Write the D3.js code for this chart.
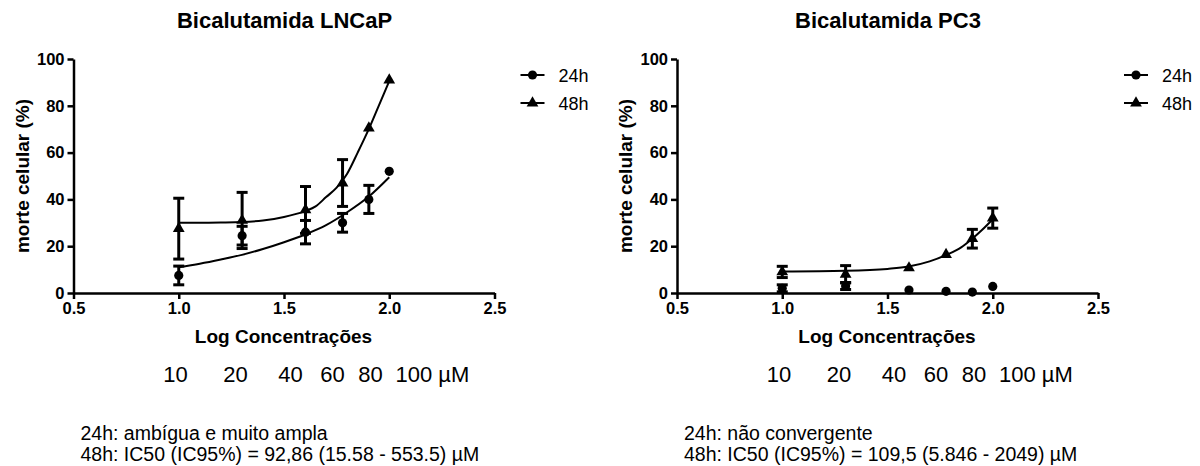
<!DOCTYPE html>
<html>
<head>
<meta charset="utf-8">
<script src="https://cdn.jsdelivr.net/npm/d3@7"></script>
<style>
  body { margin: 0; background: #fff; }
  svg { display: block; font-family: Arial, "Liberation Sans", sans-serif; }
  .axis path, .axis line { stroke: #000; stroke-width: 2.5; }
  .axis text { font-size: 16.5px; font-weight: bold; fill: #000; }
</style>
</head>
<body>
<svg width="1200" height="466"></svg>
<script>
// concentrations (µM) and their log10 positions
var conc = [10, 20, 40, 60, 80, 100]
var logConc = conc.map(c => Math.log10(c))
var concLabels = ["10", "20", "40", "60", "80", "100 µM"]
var xTicks = [0.5, 1.0, 1.5, 2.0, 2.5]
var yTicks = [0, 20, 40, 60, 80, 100]

// LNCaP means and error (SEM)
var lncap24 = [7.5, 24.5, 26, 30, 40, 52]
var lncap24Err = [4, 4, 5, 4, 6, 0]
var lncap48 = [27.5, 31, 35.5, 47, 70.5, 91]
var lncap48Err = [13, 12, 10, 10, 0, 0]

// PC3 means and error
var pc3_24 = [2, 3, 1.3, 0.7, 0.4, 2.8]
var pc3_24Err = [1.5, 1.5, 0, 0, 0, 0]
var pc3_48 = [9, 8, 10.7, 16.4, 23.2, 32]
var pc3_48Err = [2.4, 3.7, 0, 0, 4, 4.3]

// fitted curves
var lncap24FitX = [1.0, 1.1, 1.2, 1.3, 1.4, 1.5, 1.6, 1.7, 1.8, 1.9, 2.0]
var lncap24FitY = [11, 12.5, 14.3, 16.3, 18.8, 21.7, 25, 29, 34.5, 41, 49.5]
var lncap48FitX = [1.0, 1.1, 1.2, 1.3, 1.4, 1.5, 1.6, 1.65, 1.7, 1.75, 1.8, 1.85, 1.9, 1.95, 2.0]
var lncap48FitY = [30, 30, 30.1, 30.3, 31, 32.5, 35, 37, 41, 45, 51, 60, 69.5, 80, 90.5]
var pc3_48FitX = [1.0, 1.3, 1.5, 1.6, 1.7, 1.78, 1.85, 1.9, 1.95, 2.0]
var pc3_48FitY = [9.2, 9.5, 10.3, 11.3, 13.5, 16.3, 19.5, 23, 27, 31.5]

var svg = d3.select("svg")

function zip(xs, ys, es) {
    return xs.map((x, i) => ({ x: x, y: ys[i], e: es ? es[i] : 0 }))
}

function drawPanel(p) {
    var g = svg.append("g")
    var x = d3.scaleLinear().domain([0.5, 2.5]).range([p.left, p.left + 421])
    var y = d3.scaleLinear().domain([0, 100]).range([293, 59])

    g.append("g").attr("class", "axis")
        .attr("transform", "translate(" + p.left + ",0)")
        .call(d3.axisLeft(y).tickValues(yTicks).tickSize(6).tickSizeOuter(0).tickPadding(3).tickFormat(d3.format("d")))
    g.append("g").attr("class", "axis")
        .attr("transform", "translate(0,293)")
        .call(d3.axisBottom(x).tickValues(xTicks).tickSize(6).tickSizeOuter(0).tickPadding(3).tickFormat(d3.format(".1f")))

    // title and axis titles
    g.append("text").attr("x", p.left + 211).attr("y", 28)
        .attr("text-anchor", "middle").attr("font-size", 22).attr("font-weight", "bold")
        .text(p.title)
    g.append("text").attr("x", p.left + 210).attr("y", 343)
        .attr("text-anchor", "middle").attr("font-size", 19).attr("font-weight", "bold")
        .text("Log Concentrações")
    g.append("text").attr("transform", "translate(" + (p.left - 45) + ",176) rotate(-90)")
        .attr("text-anchor", "middle").attr("font-size", 19).attr("font-weight", "bold")
        .text("morte celular (%)")

    var line = d3.line().x(d => x(d.x)).y(d => y(d.y)).curve(d3.curveMonotoneX)
    p.fits.forEach(f => {
        g.append("path").attr("d", line(zip(f[0], f[1])))
            .attr("fill", "none").attr("stroke", "#000").attr("stroke-width", 2)
    })

    // error bars
    p.series.forEach(s => {
        zip(logConc, s.values, s.err).filter(d => d.e > 0).forEach(d => {
            var eb = g.append("g").attr("stroke", "#000").attr("stroke-width", 3)
            eb.append("line").attr("x1", x(d.x)).attr("x2", x(d.x)).attr("y1", y(d.y - d.e)).attr("y2", y(d.y + d.e))
            eb.append("line").attr("x1", x(d.x) - 5.5).attr("x2", x(d.x) + 5.5).attr("y1", y(d.y - d.e)).attr("y2", y(d.y - d.e))
            eb.append("line").attr("x1", x(d.x) - 5.5).attr("x2", x(d.x) + 5.5).attr("y1", y(d.y + d.e)).attr("y2", y(d.y + d.e))
        })
        g.selectAll(null).data(zip(logConc, s.values)).enter()
            .append("path")
            .attr("d", d3.symbol().type(s.symbol).size(s.symbol === d3.symbolCircle ? 66 : 60))
            .attr("transform", d => "translate(" + x(d.x) + "," + y(d.y) + ")")
            .attr("fill", "#000")
    })

    // legend
    var lg = g.append("g").attr("transform", "translate(" + (p.left + 447) + ",0)")
    p.series.forEach((s, i) => {
        var ly = 75 + i * 28
        lg.append("line").attr("x1", 0).attr("x2", 24).attr("y1", ly).attr("y2", ly)
            .attr("stroke", "#000").attr("stroke-width", 2)
        lg.append("path").attr("d", d3.symbol().type(s.symbol).size(s.symbol === d3.symbolCircle ? 66 : 60))
            .attr("transform", "translate(12," + ly + ")")
        lg.append("text").attr("x", 38).attr("y", ly + 7).attr("font-size", 18).text(s.name)
    })

    // concentration labels under the axis
    var cx = [p.left + 102, p.left + 162, p.left + 217, p.left + 259, p.left + 297, p.left + 322]
    concLabels.forEach((c, i) => {
        g.append("text").attr("x", cx[i]).attr("y", 382).attr("font-size", 22)
            .attr("text-anchor", i < 5 ? "middle" : "start").text(c)
    })

    p.notes.forEach((n, i) => {
        g.append("text").attr("x", p.left + 7).attr("y", 440 + i * 21).attr("font-size", 19.5).text(n)
    })
}

drawPanel({
    left: 73.5,
    title: "Bicalutamida LNCaP",
    series: [
        { name: "24h", values: lncap24, err: lncap24Err, symbol: d3.symbolCircle },
        { name: "48h", values: lncap48, err: lncap48Err, symbol: d3.symbolTriangle }
    ],
    fits: [[lncap24FitX, lncap24FitY], [lncap48FitX, lncap48FitY]],
    notes: ["24h: ambígua e muito ampla", "48h: IC50 (IC95%) = 92,86 (15.58 - 553.5) µM"]
})

drawPanel({
    left: 677,
    title: "Bicalutamida PC3",
    series: [
        { name: "24h", values: pc3_24, err: pc3_24Err, symbol: d3.symbolCircle },
        { name: "48h", values: pc3_48, err: pc3_48Err, symbol: d3.symbolTriangle }
    ],
    fits: [[pc3_48FitX, pc3_48FitY]],
    notes: ["24h: não convergente", "48h: IC50 (IC95%) = 109,5 (5.846 - 2049) µM"]
})
</script>
</body>
</html>
